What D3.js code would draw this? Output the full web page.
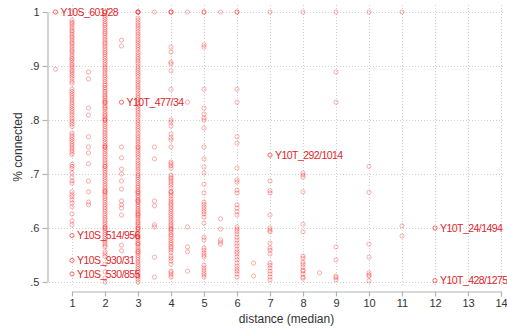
<!DOCTYPE html>
<html>
<head>
<meta charset="utf-8">
<script src="https://cdn.jsdelivr.net/npm/d3@7"></script>
<style>
  html, body { margin: 0; padding: 0; background: #fff; }
  svg { display: block; font-family: "Liberation Sans", Arial, Helvetica, sans-serif; }
</style>
</head>
<body>
<svg id="chart" width="507" height="328"></svg>
<script>
// Share of connected pairs by median distance, one array per distance value
const pct_d0_5 = [1, 0.894];
const pct_d1 = [1, 0.985, 0.981, 0.978, 0.974, 0.97, 0.966, 0.963, 0.959, 0.955, 0.952, 0.948, 0.944, 0.941, 0.937, 0.933, 0.929, 0.926, 0.922, 0.918, 0.914, 0.911, 0.907, 0.903, 0.9, 0.896, 0.892, 0.889, 0.885, 0.881, 0.877, 0.872, 0.868, 0.857, 0.853, 0.849, 0.845, 0.841, 0.837, 0.833, 0.829, 0.825, 0.821, 0.817, 0.813, 0.809, 0.804, 0.8, 0.796, 0.792, 0.788, 0.776, 0.772, 0.768, 0.764, 0.76, 0.756, 0.752, 0.748, 0.744, 0.74, 0.736, 0.718, 0.714, 0.71, 0.702, 0.694, 0.687, 0.683, 0.667, 0.662, 0.658, 0.652, 0.646, 0.639, 0.626, 0.613, 0.606, 0.586, 0.54, 0.515];
const pct_d1_5 = [0.889, 0.876, 0.822, 0.809, 0.769, 0.75, 0.739, 0.719, 0.687, 0.667, 0.648, 0.643];
const pct_d2 = [1, 1, 1, 0.994, 0.99, 0.986, 0.982, 0.978, 0.975, 0.971, 0.967, 0.963, 0.96, 0.956, 0.952, 0.948, 0.944, 0.941, 0.937, 0.933, 0.929, 0.925, 0.922, 0.918, 0.914, 0.91, 0.906, 0.902, 0.898, 0.895, 0.891, 0.887, 0.883, 0.879, 0.875, 0.871, 0.867, 0.864, 0.86, 0.857, 0.853, 0.85, 0.846, 0.843, 0.84, 0.836, 0.833, 0.833, 0.83, 0.826, 0.823, 0.82, 0.816, 0.812, 0.809, 0.806, 0.802, 0.8, 0.8, 0.796, 0.792, 0.788, 0.784, 0.78, 0.776, 0.772, 0.768, 0.764, 0.76, 0.756, 0.752, 0.75, 0.75, 0.746, 0.742, 0.738, 0.734, 0.73, 0.726, 0.722, 0.718, 0.714, 0.714, 0.71, 0.706, 0.702, 0.698, 0.694, 0.69, 0.686, 0.682, 0.678, 0.674, 0.67, 0.667, 0.667, 0.663, 0.659, 0.655, 0.651, 0.647, 0.643, 0.639, 0.635, 0.631, 0.627, 0.623, 0.619, 0.615, 0.611, 0.607, 0.603, 0.6, 0.6, 0.596, 0.592, 0.588, 0.584, 0.58, 0.576, 0.572, 0.568, 0.565, 0.556, 0.552, 0.547, 0.533, 0.519, 0.507, 0.5];
const pct_d2_5 = [0.948, 0.937, 0.833, 0.75, 0.73, 0.709, 0.7, 0.687, 0.672, 0.65, 0.643, 0.637, 0.624, 0.568, 0.558];
const pct_d3 = [1, 1, 1, 1, 0.989, 0.985, 0.98, 0.976, 0.972, 0.968, 0.963, 0.959, 0.955, 0.95, 0.946, 0.942, 0.938, 0.934, 0.93, 0.925, 0.921, 0.917, 0.913, 0.909, 0.905, 0.9, 0.896, 0.892, 0.888, 0.884, 0.88, 0.875, 0.871, 0.867, 0.863, 0.859, 0.855, 0.85, 0.846, 0.842, 0.838, 0.833, 0.829, 0.825, 0.821, 0.817, 0.813, 0.809, 0.805, 0.8, 0.796, 0.792, 0.788, 0.784, 0.78, 0.775, 0.771, 0.767, 0.763, 0.759, 0.755, 0.75, 0.75, 0.746, 0.742, 0.738, 0.734, 0.73, 0.725, 0.721, 0.717, 0.713, 0.709, 0.705, 0.7, 0.697, 0.694, 0.69, 0.686, 0.682, 0.678, 0.675, 0.671, 0.667, 0.667, 0.664, 0.66, 0.657, 0.653, 0.65, 0.65, 0.647, 0.643, 0.64, 0.636, 0.633, 0.63, 0.627, 0.625, 0.623, 0.62, 0.617, 0.613, 0.61, 0.607, 0.604, 0.6, 0.6, 0.597, 0.593, 0.589, 0.585, 0.583, 0.581, 0.577, 0.573, 0.571, 0.569, 0.565, 0.561, 0.557, 0.556, 0.553, 0.549, 0.545, 0.541, 0.537, 0.533, 0.529, 0.525, 0.521, 0.517, 0.513, 0.509, 0.505, 0.5];
const pct_d3_5 = [1, 0.75, 0.728, 0.65, 0.641, 0.606, 0.602, 0.546, 0.509];
const pct_d4 = [1, 1, 1, 0.935, 0.926, 0.907, 0.904, 0.891, 0.857, 0.8, 0.796, 0.789, 0.774, 0.767, 0.763, 0.75, 0.722, 0.719, 0.715, 0.711, 0.698, 0.694, 0.691, 0.687, 0.683, 0.679, 0.674, 0.667, 0.667, 0.663, 0.659, 0.654, 0.65, 0.646, 0.643, 0.639, 0.635, 0.631, 0.627, 0.623, 0.619, 0.615, 0.611, 0.607, 0.604, 0.6, 0.598, 0.596, 0.592, 0.588, 0.585, 0.581, 0.577, 0.573, 0.57, 0.566, 0.563, 0.559, 0.555, 0.548, 0.544, 0.539, 0.533, 0.52, 0.517, 0.513, 0.509];
const pct_d4_5 = [1, 0.833, 0.602, 0.565, 0.556, 0.52];
const pct_d5 = [1, 1, 0.939, 0.935, 0.857, 0.822, 0.811, 0.804, 0.8, 0.785, 0.75, 0.728, 0.713, 0.702, 0.681, 0.665, 0.648, 0.644, 0.639, 0.635, 0.63, 0.626, 0.62, 0.609, 0.583, 0.578, 0.563, 0.559, 0.554, 0.55, 0.546, 0.531, 0.526, 0.522, 0.517, 0.513, 0.509];
const pct_d5_5 = [1, 0.617, 0.598, 0.578, 0.574, 0.57];
const pct_d6 = [1, 1, 0.857, 0.833, 0.769, 0.757, 0.711, 0.689, 0.685, 0.67, 0.665, 0.643, 0.637, 0.63, 0.624, 0.602, 0.598, 0.594, 0.589, 0.583, 0.578, 0.572, 0.567, 0.561, 0.556, 0.552, 0.546, 0.541, 0.535, 0.529, 0.524, 0.52, 0.515, 0.509];
const pct_d6_5 = [0.535, 0.511];
const pct_d7 = [1, 0.735, 0.687, 0.669, 0.665, 0.624, 0.6, 0.596, 0.593, 0.572, 0.563, 0.559, 0.552, 0.535, 0.531, 0.526, 0.52, 0.515, 0.509, 0.504];
const pct_d8 = [1, 0.702, 0.698, 0.694, 0.667, 0.607, 0.593, 0.548, 0.544, 0.537, 0.533, 0.528, 0.522, 0.52, 0.515, 0.509, 0.507];
const pct_d8_5 = [0.517];
const pct_d9 = [1, 0.889, 0.833, 0.565, 0.541, 0.511, 0.508, 0.504];
const pct_d10 = [1, 0.714, 0.666, 0.57, 0.546, 0.517, 0.513, 0.511, 0.502];
const pct_d11 = [1, 0.604, 0.585];
const pct_d12 = [0.6, 0.5025];

// Distances paired with their arrays
const distances = [0.5, 1, 1.5, 2, 2.5, 3, 3.5, 4, 4.5, 5, 5.5, 6, 6.5, 7, 8, 8.5, 9, 10, 11, 12];
const pctByDistance = [pct_d0_5, pct_d1, pct_d1_5, pct_d2, pct_d2_5, pct_d3, pct_d3_5, pct_d4, pct_d4_5, pct_d5, pct_d5_5, pct_d6, pct_d6_5, pct_d7, pct_d8, pct_d8_5, pct_d9, pct_d10, pct_d11, pct_d12];

// Labelled observations
const labelNames = ["Y10S_601/28", "Y10T_477/34", "Y10T_292/1014", "Y10S_514/956", "Y10S_930/31", "Y10S_530/855", "Y10T_24/1494", "Y10T_428/1275"];
const labelDist = [0.5, 2.5, 7, 1, 1, 1, 12, 12];
const labelPct = [1, 0.833, 0.735, 0.586, 0.54, 0.515, 0.6, 0.5025];

// Axis ticks
const xTicks = [1, 2, 3, 4, 5, 6, 7, 8, 9, 10, 11, 12, 13, 14];
const yTicks = [0.5, 0.6, 0.7, 0.8, 0.9, 1];

const points = [];
distances.forEach((d, i) => pctByDistance[i].forEach(v => points.push({ d, v })));

const svg = d3.select("#chart");
const x = d3.scaleLinear().domain([1, 14]).range([72, 501]);
const y = d3.scaleLinear().domain([0.5, 1]).range([282, 12]);

const gridColor = "#cfcfcf";
const axisColor = "#b4b4b4";
const textColor = "#333";
const markerStroke = { color: "#ff0000", opacity: 0.4, width: 0.8, r: 2.1 };

// Dotted grid
svg.append("g").selectAll("line").data(yTicks).join("line")
  .attr("x1", 49).attr("x2", 505)
  .attr("y1", d => y(d) + 0.5).attr("y2", d => y(d) + 0.5)
  .attr("stroke", gridColor).attr("stroke-width", 1).attr("stroke-dasharray", "1,2");
svg.append("g").selectAll("line").data(xTicks).join("line")
  .attr("x1", d => x(d) + 0.5).attr("x2", d => x(d) + 0.5)
  .attr("y1", 5).attr("y2", 287)
  .attr("stroke", gridColor).attr("stroke-width", 1).attr("stroke-dasharray", "1,2");

// Axes
const fmtY = d => d === 1 ? "1" : d3.format(".1f")(d).replace(/^0/, "");
const yAxis = svg.append("g").attr("transform", "translate(47.5,0)")
  .call(d3.axisLeft(y).tickValues(yTicks).tickFormat(fmtY).tickSize(5).tickSizeOuter(0).tickPadding(3));
const xAxis = svg.append("g").attr("transform", "translate(0,291.5)")
  .call(d3.axisBottom(x).tickValues(xTicks).tickFormat(d3.format("d")).tickSize(5).tickSizeOuter(0).tickPadding(3));
[yAxis, xAxis].forEach(g => {
  g.select(".domain").attr("stroke", axisColor).attr("stroke-width", 1.2);
  g.selectAll(".tick line").attr("stroke", axisColor).attr("stroke-width", 1.2);
  g.selectAll(".tick text").attr("fill", textColor).style("font-size", "11px")
    .style("font-family", "'Liberation Sans', Arial, sans-serif");
});

// Axis titles
svg.append("text")
  .attr("x", (x(1) + x(14)) / 2).attr("y", 323)
  .attr("text-anchor", "middle").attr("fill", textColor).style("font-size", "12px")
  .text("distance (median)");
svg.append("text")
  .attr("transform", `translate(22,${(y(0.5) + y(1)) / 2}) rotate(-90)`)
  .attr("text-anchor", "middle").attr("fill", textColor).style("font-size", "12px")
  .text("% connected");

// Markers
const drawMarkers = (data) => svg.append("g").selectAll("circle").data(data).join("circle")
  .attr("cx", p => x(p.d)).attr("cy", p => y(p.v)).attr("r", markerStroke.r)
  .attr("fill", "none").attr("stroke", markerStroke.color)
  .attr("stroke-opacity", markerStroke.opacity).attr("stroke-width", markerStroke.width);
drawMarkers(points);

// Labelled markers and their names
const labels = labelNames.map((name, i) => ({ name, d: labelDist[i], v: labelPct[i] }));
drawMarkers(labels);
svg.append("g").selectAll("text").data(labels).join("text")
  .attr("x", p => x(p.d) + 5).attr("y", p => y(p.v))
  .attr("dy", "0.35em").attr("fill", "#e0262a").style("font-size", "10.5px")
  .style("letter-spacing", "-0.55px")
  .text(p => p.name);
</script>
</body>
</html>
